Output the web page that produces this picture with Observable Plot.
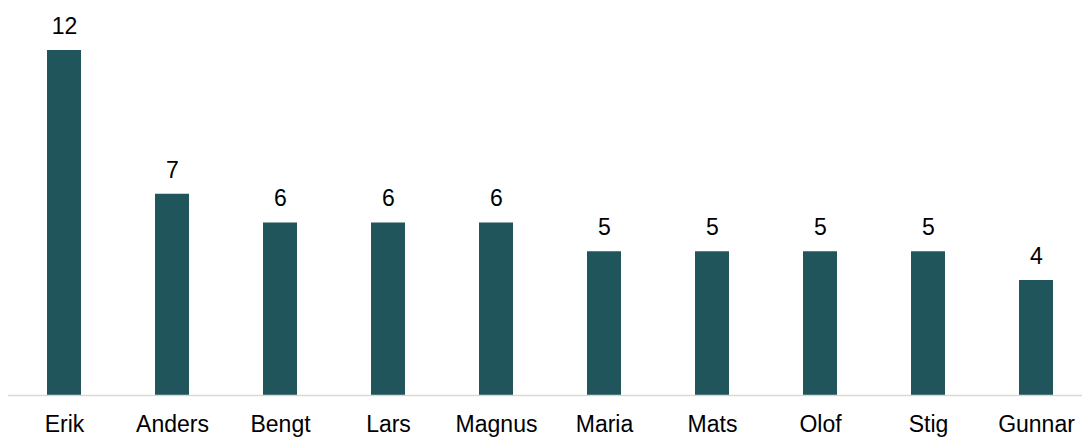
<!DOCTYPE html>
<html>
<head>
<meta charset="utf-8">
<script src="https://cdn.jsdelivr.net/npm/d3@7"></script>
<script src="https://cdn.jsdelivr.net/npm/@observablehq/plot@0.6"></script>
<style>
  html, body { margin: 0; padding: 0; background: #fff; overflow: hidden; }
  #chart svg { display: block; }
</style>
</head>
<body>
<div id="chart"></div>
<script>
const names = ["Erik", "Anders", "Bengt", "Lars", "Magnus", "Maria", "Mats", "Olof", "Stig", "Gunnar"];
const counts = [12, 7, 6, 6, 6, 5, 5, 5, 5, 4];

const data = names.map((name, i) => ({name, count: counts[i]}));

const chart = Plot.plot({
  width: 1082,
  height: 437,
  marginTop: 50,
  marginBottom: 42,
  marginLeft: 8,
  marginRight: 0,
  style: {fontFamily: "'Liberation Sans', Arial, sans-serif", fontSize: "23px", color: "#000", background: "#fff", overflow: "visible"},
  x: {domain: names, range: [8.3, 1092], paddingInner: 0.686, paddingOuter: 0.343, label: null},
  y: {domain: [0, 12], axis: null},
  marks: [
    Plot.barY(data, {x: "name", y: "count", fill: "#21555c"}),
    Plot.ruleY([0], {stroke: "#d9d9d9", strokeWidth: 1.3}),
    Plot.text(data, {x: "name", y: "count", text: d => String(d.count), dy: -16.7, lineAnchor: "bottom", fontSize: 23, fill: "#000"}),
    Plot.axisX({tickSize: 0, tickPadding: 20.4, fontSize: 23, label: null, fill: "#000"})
  ]
});
document.getElementById("chart").appendChild(chart);
</script>
</body>
</html>
